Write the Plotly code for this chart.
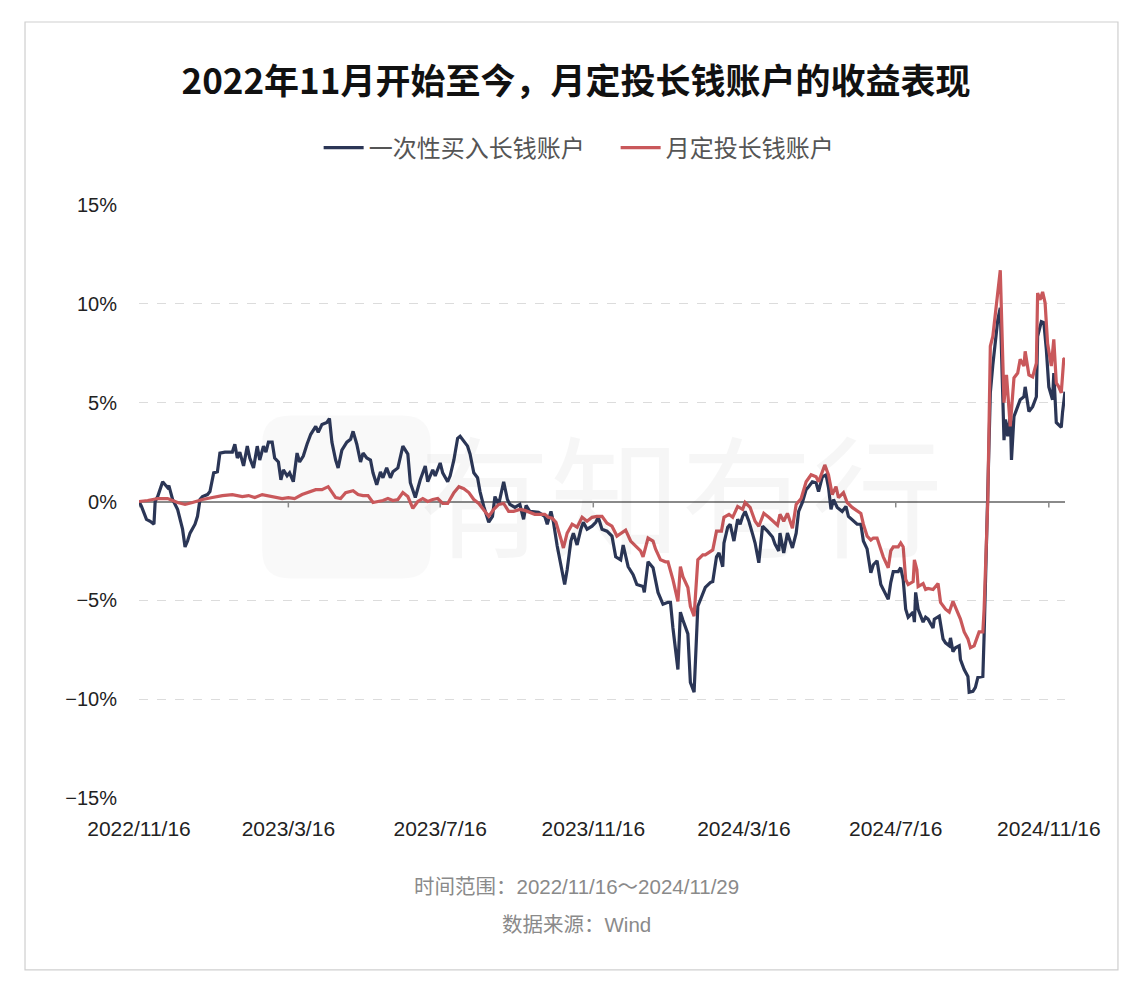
import pandas as pd
import plotly.graph_objects as go

START = "2022-11-16"

# 一次性买入长钱账户: days since 2022-11-16, cumulative return (%)
lump_days = [0, 2, 6, 9, 12, 13, 15, 19, 23, 24, 27, 31, 35, 37, 39, 41, 45, 47, 49, 51,
             55, 57, 60, 63, 65, 69, 75, 77, 79, 81, 84, 87, 89, 92, 95, 97, 100, 102, 104, 107,
             109, 112, 114, 116, 119, 121, 124, 127, 129, 132, 135, 138, 142, 144, 147, 151, 153, 155, 158, 160,
             163, 167, 170, 172, 175, 178, 180, 183, 186, 188, 191, 194, 196, 199, 202, 204, 208, 212, 216, 218,
             222, 226, 230, 232, 236, 238, 242, 244, 248, 250, 253, 256, 258, 261, 264, 266, 269, 272, 274, 277,
             281, 284, 286, 289, 293, 296, 298, 302, 306, 309, 311, 314, 321, 326, 328, 331, 333, 336, 339, 342,
             344, 347, 349, 352, 355, 357, 360, 364, 367, 369, 372, 376, 380, 383, 387, 389, 393, 397, 400, 405,
             406, 409, 413, 417, 421, 425, 427, 429, 433, 435, 437, 441, 443, 446, 449, 453, 455, 459, 461, 464,
             466, 469, 470, 473, 475, 478, 481, 483, 485, 487, 490, 493, 495, 498, 501, 505, 509, 511, 514, 515,
             518, 521, 525, 528, 530, 533, 536, 538, 541, 544, 546, 549, 552, 554, 556, 558, 561, 565, 568, 570,
             574, 577, 580, 582, 585, 588, 590, 593, 596, 598, 602, 604, 606, 610, 612, 614, 616, 618, 622, 623,
             624, 626, 630, 632, 634, 638, 639, 643, 646, 648, 651, 652, 654, 656, 659, 660, 663, 666, 667, 670,
             672, 674, 678, 679, 682, 684, 686, 688, 690, 692, 694, 695, 696, 698, 700, 701, 703, 706, 708, 711,
             712, 715, 718, 721, 722, 725, 727, 729, 731, 734, 735, 737, 739, 741, 742, 744]
lump_vals = [0.0, -0.25, -0.9, -1.0, -1.15, 0.0, 0.25, 1.0, 0.7, 0.8, 0.1, -0.4, -1.4, -2.3, -2.0, -1.6, -1.15, -0.75, 0.1, 0.25,
             0.35, 0.5, 1.45, 1.5, 2.45, 2.5, 2.5, 2.9, 2.2, 2.5, 1.8, 2.8, 2.2, 1.7, 2.8, 2.1, 2.8, 2.5, 3.0, 3.0,
             2.2, 2.0, 1.1, 1.6, 1.3, 1.45, 1.0, 2.45, 2.0, 2.3, 2.9, 3.4, 3.8, 3.5, 3.9, 4.0, 4.2, 3.0, 2.1, 1.7,
             2.6, 3.0, 3.15, 3.55, 2.9, 2.0, 2.45, 2.2, 2.1, 1.45, 0.85, 1.5, 1.2, 1.7, 1.2, 1.5, 1.7, 2.8, 2.4, 0.95,
             0.2, 1.1, 1.8, 1.0, 1.6, 1.3, 1.95, 1.45, 1.0, 1.3, 2.1, 3.2, 3.3, 3.05, 2.8, 2.4, 1.45, 1.2, 0.5, -0.25,
             -1.05, -0.75, 0.25, -0.15, 1.0, 0.1, -0.15, -0.3, -0.15, -0.9, -0.2, -0.5, -0.55, -0.75, -1.15, -0.5, -1.05, -2.25, -3.3, -4.2,
             -3.45, -2.0, -1.6, -2.2, -1.4, -1.05, -1.4, -1.25, -1.05, -0.8, -1.4, -1.5, -1.75, -2.8, -2.95, -2.2, -3.3, -3.7, -4.2, -4.3,
             -4.6, -3.05, -3.35, -4.6, -5.2, -5.1, -5.1, -6.4, -8.5, -5.6, -6.0, -6.7, -9.15, -9.65, -5.3, -4.6, -4.35, -4.1, -4.05, -2.8,
             -2.6, -3.3, -2.1, -1.3, -1.15, -2.0, -0.9, -1.15, -0.75, -0.5, -1.0, -1.65, -2.1, -3.1, -1.25, -1.5, -1.8, -2.15, -2.5, -1.6,
             -2.6, -1.6, -2.35, -1.6, -0.5, -0.05, 0.6, 0.75, 1.0, 0.95, 0.5, 1.25, 1.35, 0.7, -0.4, 0.1, -0.3, -0.5, -0.25, -0.75,
             -1.0, -1.15, -1.15, -2.0, -2.4, -3.6, -3.2, -3.0, -4.2, -4.45, -4.95, -4.1, -3.55, -3.55, -3.35, -3.95, -5.45, -5.85, -5.6, -6.1,
             -4.6, -5.45, -6.1, -5.85, -5.95, -6.4, -5.95, -5.8, -6.95, -7.15, -7.3, -6.9, -7.6, -7.4, -7.3, -8.0, -8.5, -8.85, -9.65, -9.6,
             -9.4, -8.9, -8.85, -6.8, -0.05, 5.5, 6.9, 8.0, 9.2, 9.8, 5.5, 3.1, 4.15, 3.3, 4.5, 2.1, 4.3, 4.75, 5.15, 5.3,
             5.8, 4.55, 4.8, 5.3, 8.35, 9.1, 9.05, 7.7, 5.8, 5.15, 6.5, 4.0, 3.9, 3.75, 4.5, 5.55]

# 月定投长钱账户: days since 2022-11-16, cumulative return (%)
dca_days = [0, 7, 15, 23, 31, 37, 43, 51, 59, 67, 75, 83, 88, 93, 99, 104, 109, 115, 120, 125,
            131, 136, 142, 147, 152, 158, 162, 166, 172, 176, 180, 184, 188, 192, 196, 200, 204, 208, 212, 216,
            220, 224, 228, 232, 236, 240, 244, 248, 253, 257, 261, 265, 269, 273, 277, 281, 285, 289, 293, 297,
            301, 306, 310, 318, 326, 329, 332, 335, 339, 341, 344, 348, 352, 356, 360, 364, 368, 372, 376, 380,
            384, 388, 391, 395, 399, 403, 405, 409, 413, 415, 419, 423, 425, 429, 433, 435, 437, 441, 443, 446,
            449, 453, 455, 461, 464, 468, 470, 474, 477, 481, 485, 487, 491, 495, 498, 502, 506, 510, 513, 515,
            518, 521, 525, 528, 532, 536, 540, 544, 546, 549, 551, 554, 557, 560, 562, 566, 569, 573, 577, 580,
            582, 585, 588, 590, 593, 596, 598, 602, 604, 606, 610, 612, 614, 616, 618, 622, 623, 625, 626, 630,
            632, 634, 638, 642, 644, 648, 651, 654, 658, 660, 663, 666, 668, 671, 673, 675, 678, 679, 682, 684,
            686, 688, 690, 692, 694, 695, 697, 699, 700, 703, 706, 708, 711, 712, 715, 718, 721, 722, 724, 726,
            728, 730, 733, 735, 737, 739, 741, 743, 744]
dca_vals = [0.0, 0.05, 0.15, 0.15, -0.05, -0.15, -0.05, 0.1, 0.2, 0.3, 0.35, 0.25, 0.3, 0.2, 0.35, 0.3, 0.25, 0.15, 0.2, 0.15,
            0.35, 0.45, 0.6, 0.6, 0.75, 0.2, 0.15, 0.45, 0.55, 0.35, 0.3, 0.3, -0.05, 0.0, 0.05, 0.15, 0.05, 0.1, 0.45, 0.25,
            -0.35, 0.0, 0.15, 0.0, 0.1, 0.15, -0.1, -0.1, 0.45, 0.75, 0.65, 0.45, 0.1, -0.1, -0.4, -0.75, -0.4, -0.15, -0.1, -0.5,
            -0.5, -0.4, -0.45, -0.65, -0.65, -0.8, -0.85, -1.05, -1.9, -2.35, -1.6, -1.15, -1.3, -0.8, -1.0, -0.8, -0.75, -0.75, -1.1, -1.25,
            -1.75, -1.6, -1.45, -2.0, -2.25, -2.5, -2.8, -1.85, -2.0, -2.4, -2.95, -3.05, -3.05, -3.95, -5.05, -3.3, -3.8, -4.35, -5.3, -5.8,
            -2.95, -2.7, -2.7, -2.45, -1.5, -1.5, -0.8, -0.65, -0.8, -0.25, -0.4, -0.05, -0.3, -1.0, -1.25, -0.6, -0.8, -1.0, -1.2, -0.65,
            -1.0, -0.6, -1.35, -0.15, 0.15, 1.0, 1.35, 1.25, 1.0, 1.5, 1.85, 1.35, 0.35, 0.75, 0.2, 0.45, -0.05, -0.3, -0.5, -0.6,
            -1.15, -1.75, -1.95, -1.85, -1.85, -2.45, -2.8, -3.35, -2.5, -2.3, -2.3, -2.1, -2.3, -3.95, -4.2, -4.05, -2.95, -3.45, -4.3, -4.15,
            -4.45, -4.4, -4.45, -4.15, -5.1, -5.45, -5.6, -5.05, -5.6, -5.95, -6.6, -6.95, -7.4, -7.3, -6.95, -6.6, -6.6, -5.45, 0.1, 7.85,
            8.35, 9.55, 10.55, 11.7, 7.2, 5.0, 6.4, 4.8, 3.8, 6.25, 6.5, 7.2, 6.85, 7.6, 6.4, 6.3, 7.0, 10.55, 10.2, 10.6,
            10.05, 8.0, 6.85, 8.2, 6.0, 5.8, 5.5, 7.2, 7.25]

x_tick_dates = ["2022-11-16", "2023-03-16", "2023-07-16", "2023-11-16", "2024-03-16", "2024-07-16", "2024-11-16"]
x_tick_text = ["2022/11/16", "2023/3/16", "2023/7/16", "2023/11/16", "2024/3/16", "2024/7/16", "2024/11/16"]
y_tick_vals = [-15, -10, -5, 0, 5, 10, 15]
y_tick_text = ["−15%", "−10%", "−5%", "0%", "5%", "10%", "15%"]

series_names = ["一次性买入长钱账户", "月定投长钱账户"]
title_text = "2022年11月开始至今，月定投长钱账户的收益表现"
footer_lines = ["时间范围：2022/11/16～2024/11/29", "数据来源：Wind"]
END = "2024-11-29"

start = pd.Timestamp(START)
lump_dates = start + pd.to_timedelta(lump_days, unit="D")
dca_dates = start + pd.to_timedelta(dca_days, unit="D")

NAVY = "#2b3656"
RED = "#c9585b"
FONT = "Liberation Sans, Noto Sans CJK SC, sans-serif"

fig = go.Figure()
fig.add_trace(go.Scatter(x=lump_dates, y=lump_vals, mode="lines", name=series_names[0],
                         line=dict(color=NAVY, width=3.2)))
fig.add_trace(go.Scatter(x=dca_dates, y=dca_vals, mode="lines", name=series_names[1],
                         line=dict(color=RED, width=3.2)))

shapes = []
# small tick marks on the zero line
for d in x_tick_dates:
    shapes.append(dict(type="line", xref="x", yref="y", x0=d, x1=d, y0=0, y1=-0.3,
                       line=dict(color="#888888", width=1.5), layer="below"))
# outer card border
shapes.append(dict(type="rect", xref="paper", yref="paper", x0=-0.1231, x1=1.0572, y0=-0.290, y1=1.3086,
                   line=dict(color="#cfcfcf", width=1.2), fillcolor="rgba(0,0,0,0)", layer="below"))
# watermark logo block (rounded)
lx0, lx1, ly0, ly1, r = 0.133, 0.315, 0.37, 0.645, 0.03
ry = r * 926 / 593
logo_path = (f"M {lx0+r},{ly0} L {lx1-r},{ly0} Q {lx1},{ly0} {lx1},{ly0+ry} L {lx1},{ly1-ry} "
             f"Q {lx1},{ly1} {lx1-r},{ly1} L {lx0+r},{ly1} Q {lx0},{ly1} {lx0},{ly1-ry} "
             f"L {lx0},{ly0+ry} Q {lx0},{ly0} {lx0+r},{ly0} Z")
shapes.append(dict(type="path", xref="paper", yref="paper", path=logo_path,
                   line=dict(width=0), fillcolor="rgba(0,0,0,0.022)", layer="below"))

annotations = [
    dict(text="有知有行", xref="paper", yref="paper", x=0.585, y=0.52, showarrow=False,
         xanchor="center", yanchor="middle",
         font=dict(family="Noto Sans CJK SC", size=131, color="rgba(0,0,0,0.035)")),
    dict(text=footer_lines[0], xref="paper", yref="paper", x=0.473, y=-0.150, showarrow=False,
         xanchor="center", yanchor="middle",
         font=dict(family=FONT, size=20.5, color="#8a8a8a")),
    dict(text=footer_lines[1], xref="paper", yref="paper", x=0.473, y=-0.2125, showarrow=False,
         xanchor="center", yanchor="middle",
         font=dict(family=FONT, size=20.5, color="#8a8a8a")),
]

fig.update_layout(
    width=1128, height=984,
    margin=dict(l=131, r=71, t=197, b=194),
    paper_bgcolor="white", plot_bgcolor="white",
    title=dict(text="<b>" + title_text + "</b>", xref="container", yref="container",
               x=0.5035, y=0.9248, xanchor="center", yanchor="middle",
               font=dict(family="Noto Sans CJK SC, sans-serif", size=35, color="#111111")),
    legend=dict(orientation="h", xref="paper", yref="paper", x=0.194, y=1.096,
                xanchor="left", yanchor="middle",
                font=dict(family=FONT, size=24, color="#555555"), itemwidth=40,
                entrywidth=242, tracegroupgap=0, bgcolor="rgba(0,0,0,0)"),
    xaxis=dict(range=[START, END], type="date", tickvals=x_tick_dates, ticktext=x_tick_text,
               showgrid=False, zeroline=False, showline=False, ticks="",
               ticklabelstandoff=16,
               tickfont=dict(family=FONT, size=21, color="#222222")),
    yaxis=dict(range=[-15, 15], tickvals=y_tick_vals, ticktext=y_tick_text,
               showgrid=True, gridcolor="#dcdcdc", griddash="dash", gridwidth=1,
               zeroline=True, zerolinecolor="#8a8a8a", zerolinewidth=1.6,
               showline=False, ticks="", ticklabelstandoff=21,
               tickfont=dict(family=FONT, size=20, color="#222222")),
    shapes=shapes,
    annotations=annotations,
    hovermode=False,
)

fig.write_html("out.html")
